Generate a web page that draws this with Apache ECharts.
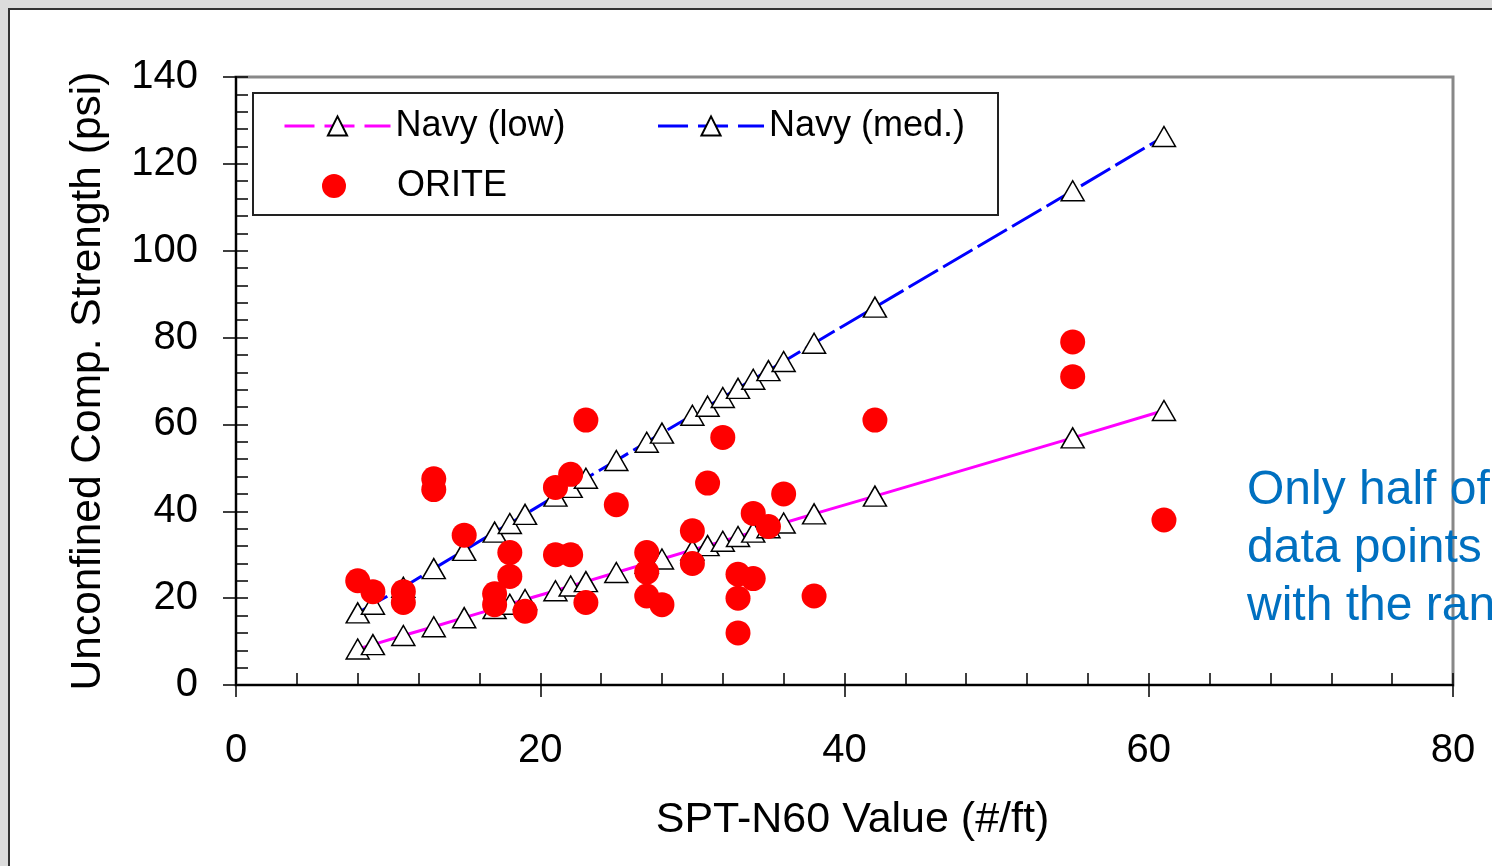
<!DOCTYPE html>
<html lang="en">
<head>
	<meta charset="UTF-8">
	<script src="https://cdn.jsdelivr.net/npm/echarts@6/dist/echarts.min.js"></script>
	<style>
		html, body { margin: 0; padding: 0; background: #dcdcdc; }
	</style>
</head>
<body>
<div id="chart" style="width: 1492px; height: 866px;"></div>
<script>
  // SPT-N60 values used for the Navy correlation points
  var sptN = [8, 9, 11, 13, 15, 17, 18, 19, 21, 22, 23, 25, 27, 28, 30, 31, 32, 33, 34, 35, 36, 38, 42, 55, 61];
  var navyLow = [8.3, 9.3, 11.4, 13.4, 15.5, 17.6, 18.6, 19.7, 21.7, 22.8, 23.8, 25.9, 28, 29, 31.1, 32.1, 33.1, 34.2, 35.2, 36.2, 37.3, 39.4, 43.5, 56.9, 63.2];
  var navyMed = [16.6, 18.6, 22.5, 26.8, 31, 35.2, 37.2, 39.3, 43.5, 45.5, 47.6, 51.7, 55.9, 58, 62.1, 64.2, 66.2, 68.3, 70.4, 72.4, 74.5, 78.7, 87, 113.8, 126.3];
  // ORITE measurements
  var oriteN =  [8, 9, 11, 11, 13, 13, 15, 17, 17, 18, 18, 19, 21, 21, 22, 22, 23, 23, 25, 27, 27, 27, 28, 30, 30, 31, 32, 33, 33, 33, 34, 34, 35, 36, 38, 42, 55, 55, 61];
  var oriteQu = [24, 21.5, 21.5, 19, 47.5, 45, 34.5, 21, 18.5, 30.5, 25, 17, 45.5, 30, 48.5, 30, 61, 19, 41.5, 30.5, 26, 20.5, 18.5, 35.5, 28, 46.5, 57, 25.5, 20, 12, 39.5, 24.5, 36.5, 44, 20.5, 61, 79, 71, 38];
  var xTicks = [0, 20, 40, 60, 80];
  var yTicks = [0, 20, 40, 60, 80, 100, 120, 140];

  var font = 'Liberation Sans, Arial, sans-serif';
  function pairs(xs, ys) {
    return xs.map(function (x, i) { return [x, ys[i]]; });
  }

  var chart = echarts.init(document.getElementById('chart'));
  var tickLine = { color: '#000', width: 1.5 };

  var option = {
    animation: false,
    backgroundColor: '#dcdcdc',
    textStyle: { fontFamily: font },
    grid: {
      left: 236, right: 39, top: 77, bottom: 181,
      show: true, borderColor: '#888', borderWidth: 3, backgroundColor: 'transparent'
    },
    graphic: [
      {
        type: 'rect', z: -10, silent: true,
        shape: { x: 9, y: 9, width: 1600, height: 1000 },
        style: { fill: '#fff', stroke: '#333', lineWidth: 2 }
      },
      {
        type: 'rect', z: 3, silent: true,
        shape: { x: 253, y: 93, width: 745, height: 122 },
        style: { fill: '#fff', stroke: '#222', lineWidth: 2 }
      },
      {
        type: 'text', z: 5, silent: true, left: 1247, top: 462,
        style: {
          text: 'Only half of\ndata points\nwith the ran',
          fill: '#0070C0', font: '48px ' + font, lineHeight: 58
        }
      }
    ],
    legend: [
      {
        data: [
          { name: 'Navy (low)', lineStyle: { type: [30, 10], width: 3 } },
          { name: 'Navy (med.)', lineStyle: { type: [30, 10], width: 3 } }
        ],
        left: 283, top: 106, padding: 0, z: 6,
        itemWidth: 106, itemHeight: 24, itemGap: 91,
        textStyle: { fontSize: 36, fontFamily: font, color: '#000', lineHeight: 40 }
      },
      {
        data: [{ name: 'ORITE', icon: 'circle', itemStyle: { opacity: 1 } }],
        left: 322, top: 166, padding: 0, z: 6,
        itemWidth: 24, itemHeight: 24,
        textStyle: { fontSize: 36, fontFamily: font, color: '#000', lineHeight: 40, padding: [0, 0, 0, 46] }
      }
    ],
    xAxis: [
      {
        type: 'value', min: xTicks[0], max: xTicks[xTicks.length - 1], interval: 20,
        position: 'bottom',
        name: 'SPT-N60 Value (#/ft)', nameLocation: 'middle', nameGap: 114,
        nameTextStyle: { fontSize: 43, fontFamily: font, color: '#000', padding: [0, 0, 0, 16] },
        axisLine: { show: true, lineStyle: { color: '#000', width: 2 } },
        axisTick: { show: true, inside: false, length: 12, lineStyle: tickLine },
        axisLabel: { fontSize: 40, fontFamily: font, color: '#000', margin: 46 },
        splitLine: { show: false }
      },
      {
        type: 'value', min: xTicks[0], max: xTicks[xTicks.length - 1], interval: 20,
        position: 'bottom', offset: 0,
        axisLine: { show: false },
        axisTick: { show: true, inside: true, length: 12, lineStyle: tickLine },
        minorTick: { show: true, splitNumber: 5, length: 12, lineStyle: tickLine },
        axisLabel: { show: false },
        splitLine: { show: false }
      }
    ],
    yAxis: [
      {
        type: 'value', min: yTicks[0], max: yTicks[yTicks.length - 1], interval: 20,
        position: 'left',
        name: 'Unconfined Comp. Strength (psi)', nameLocation: 'middle', nameGap: 126,
        nameTextStyle: { fontSize: 42.5, fontFamily: font, color: '#000' },
        axisLine: { show: true, lineStyle: { color: '#000', width: 2 } },
        axisTick: { show: true, inside: false, length: 13, lineStyle: tickLine },
        axisLabel: { fontSize: 40, fontFamily: font, color: '#000', margin: 38 },
        splitLine: { show: false }
      },
      {
        type: 'value', min: yTicks[0], max: yTicks[yTicks.length - 1], interval: 20,
        position: 'left', offset: 0,
        axisLine: { show: false },
        axisTick: { show: true, inside: true, length: 12, lineStyle: tickLine },
        minorTick: { show: true, splitNumber: 5, length: 12, lineStyle: tickLine },
        axisLabel: { show: false },
        splitLine: { show: false }
      }
    ],
    series: [
      {
        name: 'Navy (low)', type: 'line', data: pairs(sptN, navyLow),
        symbol: 'triangle', symbolSize: [23, 20], showSymbol: true,
        lineStyle: { color: '#ff00ff', width: 3, type: 'solid' },
        itemStyle: { color: '#fff', borderColor: '#000', borderWidth: 1.5 },
        emphasis: { disabled: true }, z: 2
      },
      {
        name: 'Navy (med.)', type: 'line', data: pairs(sptN, navyMed),
        symbol: 'triangle', symbolSize: [23, 20], showSymbol: true,
        lineStyle: { color: '#0000ff', width: 3, type: [34, 6] },
        itemStyle: { color: '#fff', borderColor: '#000', borderWidth: 1.5 },
        emphasis: { disabled: true }, z: 2
      },
      {
        name: 'ORITE', type: 'scatter', data: pairs(oriteN, oriteQu),
        symbol: 'circle', symbolSize: 25,
        itemStyle: { color: '#ff0000', opacity: 1 },
        emphasis: { disabled: true }, z: 3
      }
    ]
  };
  chart.setOption(option);
</script>
</body>
</html>
